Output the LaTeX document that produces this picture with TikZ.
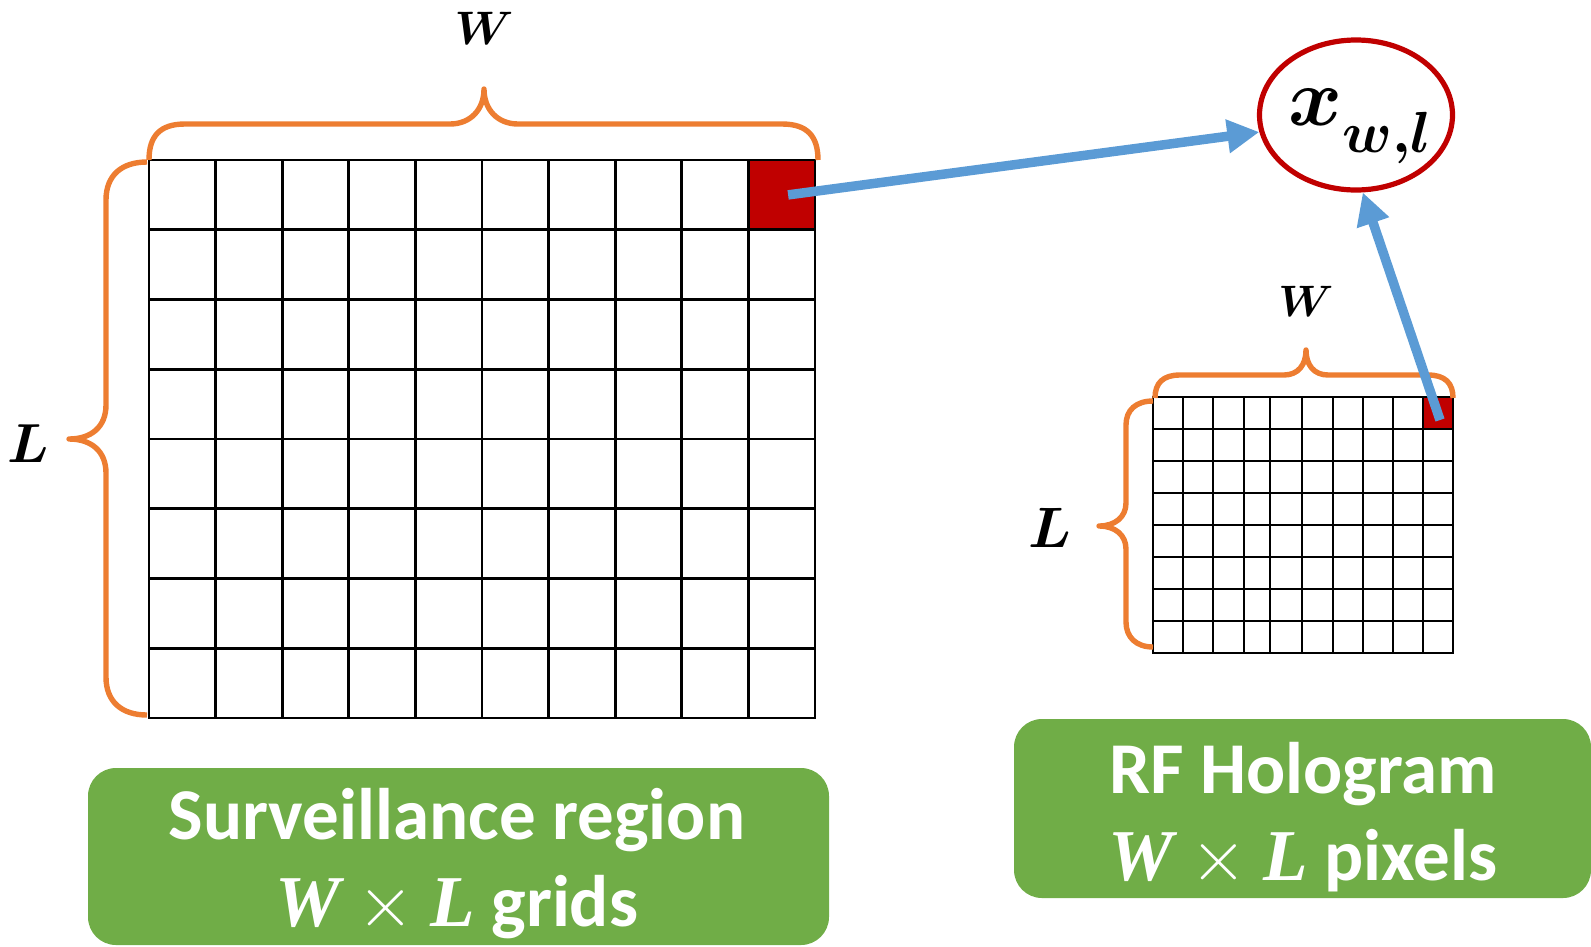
\RequirePackage{fix-cm}
\documentclass[tikz,border=0pt]{standalone}
\usepackage{amsmath,bm}
\usepackage{fontspec}
\newfontfamily\calibri{Carlito}
\newfontfamily\serifit{Liberation Serif}
\usetikzlibrary{shapes.geometric,arrows.meta}

\definecolor{brorange}{HTML}{ED7D31}
\definecolor{hlblue}{HTML}{5B9BD5}
\definecolor{cellred}{HTML}{C00000}
\definecolor{boxgreen}{HTML}{70AD47}

\newcommand{\dimvar}[1]{{\serifit\itshape #1}}

\begin{document}
\begin{tikzpicture}[x=1pt,y=-1pt,
  gridline/.style={black, line width=2.8pt, line cap=rect},
  brace/.style={draw=brorange, line width=5.4pt, line join=round},
  redcell/.style={fill=cellred, draw=none, inner sep=0pt, outer sep=0pt},
  link/.style={draw=hlblue, line width=9.5pt, -{Triangle[length=32pt,width=32pt]}},
  greenbox/.style={fill=boxgreen, rounded corners=28pt, inner sep=0pt},
  boxtext/.style={text=white, font=\calibri\bfseries\fontsize{73}{87}\selectfont, align=center},
  dimlabel/.style={inner sep=0pt}
]
\useasboundingbox (0,0) rectangle (1591,946);

% ---- surveillance region: 10 x 8 grid ----
\node[redcell, minimum width=66.6pt, minimum height=69.75pt] (cellA) at (782.1,194.9) {};
\foreach \i in {0,...,10}
  \draw[gridline] ({149+66.6*\i},160) -- ({149+66.6*\i},718);
\foreach \j in {0,...,8}
  \draw[gridline] (149,{160+69.75*\j}) -- (815,{160+69.75*\j});

% braces of the large grid
\draw[brace] (149,160) .. controls (149,136) and (160,124) .. (185,124)
  -- (450,124) .. controls (470,124) and (484,110) .. (484,89)
  .. controls (484,110) and (498,124) .. (518,124)
  -- (782,124) .. controls (807,124) and (818,136) .. (818,160);
\draw[brace] (147,162) .. controls (122,162) and (106,175) .. (106,200)
  -- (106,405) .. controls (106,427) and (91,439) .. (69,439)
  .. controls (91,439) and (106,451) .. (106,473)
  -- (106,677) .. controls (106,702) and (122,715) .. (147,715);
\node[dimlabel, font=\fontsize{47}{50}\selectfont] (Wbig) at (484,28) {$\bm{W}$};
\node[dimlabel, font=\fontsize{55}{60}\selectfont] (Lbig) at (28,444) {$\bm{L}$};

% ---- RF hologram: 10 x 8 pixels ----
\node[redcell, minimum width=30pt, minimum height=32pt] (cellB) at (1438,413) {};
\foreach \x in {1153,1183,1213,1244,1270,1302,1333,1363,1393,1423,1453}
  \draw[gridline, line width=2.6pt] (\x,397) -- (\x,653);
\foreach \y in {397,429,461,493,525,557,589,621,653}
  \draw[gridline, line width=2.6pt] (1153,\y) -- (1453,\y);

% braces of the small grid
\draw[brace] (1155,398) .. controls (1155,383) and (1163,375) .. (1180,375)
  -- (1284,375) .. controls (1298,375) and (1306,365) .. (1306,350)
  .. controls (1306,365) and (1314,375) .. (1328,375)
  -- (1428,375) .. controls (1445,375) and (1453,383) .. (1453,398);
\draw[brace] (1153,401) .. controls (1136,401) and (1126,410) .. (1126,425)
  -- (1126,503) .. controls (1126,517) and (1115,526) .. (1099,526)
  .. controls (1115,526) and (1126,535) .. (1126,549)
  -- (1126,622) .. controls (1126,637) and (1136,647) .. (1153,647);
\node[dimlabel, font=\fontsize{44}{48}\selectfont] (Wsmall) at (1306,301) {$\bm{W}$};
\node[dimlabel, font=\fontsize{57}{60}\selectfont] (Lsmall) at (1050,528) {$\bm{L}$};

% ---- the selected cell value ----
\node[ellipse, draw=cellred, line width=5.2pt, minimum width=193pt, minimum height=150pt, inner sep=0pt] (ell) at (1356,115) {};
\node[inner sep=0pt] (xwl) at (1360,126)
  {\fontsize{82}{86}\selectfont$\bm{x}$\raisebox{-27pt}{\fontsize{58}{62}\selectfont$\bm{w{,}l}$}};

\draw[link] ([xshift=6pt]cellA.center) -- (ell.190);
\draw[link] ([shift={(2,7)}]cellB.center) -- (ell.275);

% ---- captions ----
\node[greenbox, minimum width=741pt, minimum height=177pt] (regbox) at (458.5,856.5) {};
\node[boxtext] (regtext) at (457,864) {Surveillance region\\\dimvar{W} $\times$ \dimvar{L} grids};
\node[greenbox, minimum width=577pt, minimum height=179pt] (holbox) at (1302.5,808.5) {};
\node[boxtext] (holtext) at (1303,817) {RF Hologram\\\dimvar{W} $\times$ \dimvar{L} pixels};
\end{tikzpicture}
\end{document}
